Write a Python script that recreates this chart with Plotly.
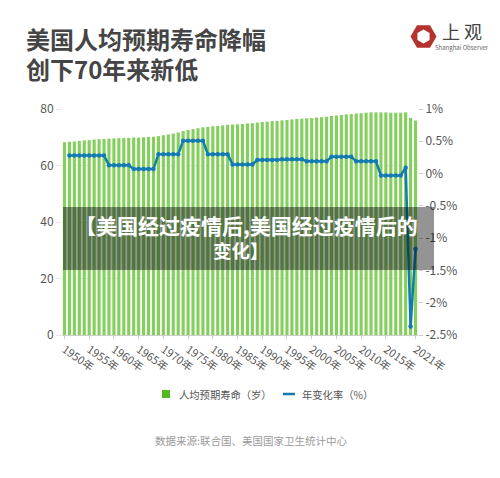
import math
import plotly.graph_objects as go

years = [str(y) + '年' for y in range(1950, 2022)]

life_expectancy = [
    68.2, 68.4, 68.5, 68.7, 68.9, 69.0, 69.2, 69.3, 69.4, 69.5,
    69.6, 69.7, 69.7, 69.8, 69.9, 69.9, 70.0, 70.1, 70.2, 70.4,
    70.7, 71.0, 71.3, 71.7, 72.2, 72.6, 72.9, 73.2, 73.5, 73.7,
    73.9, 74.0, 74.2, 74.4, 74.5, 74.6, 74.7, 74.9, 75.0, 75.2,
    75.4, 75.5, 75.7, 75.8, 76.0, 76.1, 76.3, 76.5, 76.6, 76.7,
    76.8, 77.0, 77.1, 77.3, 77.5, 77.7, 77.9, 78.1, 78.2, 78.4,
    78.5, 78.7, 78.8, 78.8, 78.8, 78.8, 78.7, 78.7, 78.7, 78.8,
    76.8, 75.9,
]

change_rate = [
    None, 0.28, 0.28, 0.28, 0.28, 0.28, 0.28, 0.28, 0.28,
    0.13, 0.13, 0.13, 0.13, 0.13,
    0.07, 0.07, 0.07, 0.07, 0.07,
    0.30, 0.30, 0.30, 0.30, 0.30,
    0.51, 0.51, 0.51, 0.51, 0.51,
    0.30, 0.30, 0.30, 0.30, 0.30,
    0.14, 0.14, 0.14, 0.14, 0.14,
    0.21, 0.21, 0.21, 0.21, 0.21,
    0.22, 0.22, 0.22, 0.22, 0.22,
    0.19, 0.19, 0.19, 0.19, 0.19,
    0.26, 0.26, 0.26, 0.26, 0.26,
    0.19, 0.19, 0.19, 0.19, 0.19,
    -0.03, -0.03, -0.03, -0.03, -0.03,
    0.09, -2.37, -1.17,
]

tick_years = ['1950年', '1955年', '1960年', '1965年', '1970年', '1975年', '1980年', '1985年',
              '1990年', '1995年', '2000年', '2005年', '2010年', '2015年', '2021年']
left_ticks = [0, 20, 40, 60, 80]
right_ticks = [1, 0.5, 0, -0.5, -1, -1.5, -2, -2.5]
right_labels = ['1%', '0.5%', '0%', '-0.5%', '-1%', '-1.5%', '-2%', '-2.5%']

FONT = 'Noto Sans CJK SC'
BAR_GREEN = '#85cf5f'
LINE_BLUE = '#127bb0'
L, R, T, B = 62, 418, 109, 335


# page pixels to paper fractions, for the things outside the plot
def px(x):
    return (x - L) / (R - L)


def py(y):
    return (B - y) / (B - T)


def hexagon(cx, cy, r, turn):
    pts = []
    for i in range(6):
        a = math.radians(60 * i + turn)
        pts.append('%.4f,%.4f' % (px(cx + r * math.cos(a)), py(cy + r * math.sin(a))))
    return 'M' + ' L'.join(pts) + ' Z'


def label(text, x, y, size, color, anchor='center'):
    return dict(text=text, xref='paper', yref='paper', x=px(x), y=py(y), xanchor=anchor,
                yanchor='middle', showarrow=False, font=dict(size=size, color=color))


fig = go.Figure()

fig.add_trace(go.Bar(x=years, y=life_expectancy, name='人均预期寿命（岁）',
                     marker=dict(color=BAR_GREEN, line_width=0)))

fig.add_trace(go.Scatter(x=years, y=change_rate, name='年变化率（%）', yaxis='y2',
                         mode='lines+markers',
                         line=dict(color=LINE_BLUE, width=2.5),
                         marker=dict(color=LINE_BLUE, size=4.5)))

fig.update_layout(
    width=500, height=478,
    margin=dict(l=L, r=500 - R, t=T, b=478 - B),
    paper_bgcolor='white', plot_bgcolor='white',
    font=dict(family=FONT, color='#555555', size=11),
    bargap=0.36,
    showlegend=False,
    xaxis=dict(type='category', range=[-0.5, 71.5], tickmode='array', tickvals=tick_years,
               ticktext=tick_years, tickangle=35, tickfont=dict(size=11), ticks='outside',
               ticklen=3, tickcolor='#cccccc', showline=True, linecolor='#cccccc', showgrid=False),
    yaxis=dict(range=[0, 80], tickvals=left_ticks, tickfont=dict(size=12), showgrid=True,
               gridcolor='#e6e6e6', griddash='dot', zeroline=False, ticks='outside', ticklen=5,
               tickcolor='#e6e6e6'),
    yaxis2=dict(range=[-2.5, 1], overlaying='y', side='right', tickmode='array',
                tickvals=right_ticks, ticktext=right_labels, tickfont=dict(size=12),
                showgrid=False, zeroline=False, ticks='outside', ticklen=4, tickcolor='#cccccc'),
    shapes=[
        dict(type='rect', xref='paper', yref='paper', x0=px(63), x1=px(434), y0=py(270), y1=py(207),
             fillcolor='rgba(0,0,0,0.42)', line_width=0, layer='above'),
        dict(type='path', xref='paper', yref='paper', fillcolor='#b5332e', line_width=0,
             path=hexagon(423.5, 36.5, 13, 0) + ' ' + hexagon(423.5, 36.5, 7, 30)),
        # legend keys
        dict(type='rect', xref='paper', yref='paper', x0=px(162), x1=px(170), y0=py(398), y1=py(390),
             fillcolor='#55b81f', line_width=0),
        dict(type='line', xref='paper', yref='paper', x0=px(283), x1=px(295), y0=py(394), y1=py(394),
             line=dict(color=LINE_BLUE, width=2.5)),
    ],
    annotations=[
        label('<b>美国人均预期寿命降幅</b>', 24, 38.5, 24, '#454545', 'left'),
        label('<b>创下70年来新低</b>', 24, 68, 24, '#454545', 'left'),
        label('<b>【美国经过疫情后,美国经过疫情后的</b>', 246, 225, 21, 'white'),
        label('<b>变化】</b>', 241, 250, 18.5, 'white'),
        label('上 观', 462, 31, 18, '#444444'),
        label('Shanghai Observer', 462, 47, 6, '#666666'),
        label('人均预期寿命（岁）', 177, 394, 10.3, '#555555', 'left'),
        label('年变化率（%）', 300, 394, 10.3, '#555555', 'left'),
        label('数据来源:联合国、美国国家卫生统计中心', 251, 440, 10.5, '#9a9a9a'),
    ],
)

fig.write_html("out.html", config={'displayModeBar': False},
               post_script="document.body.style.margin='0'")
